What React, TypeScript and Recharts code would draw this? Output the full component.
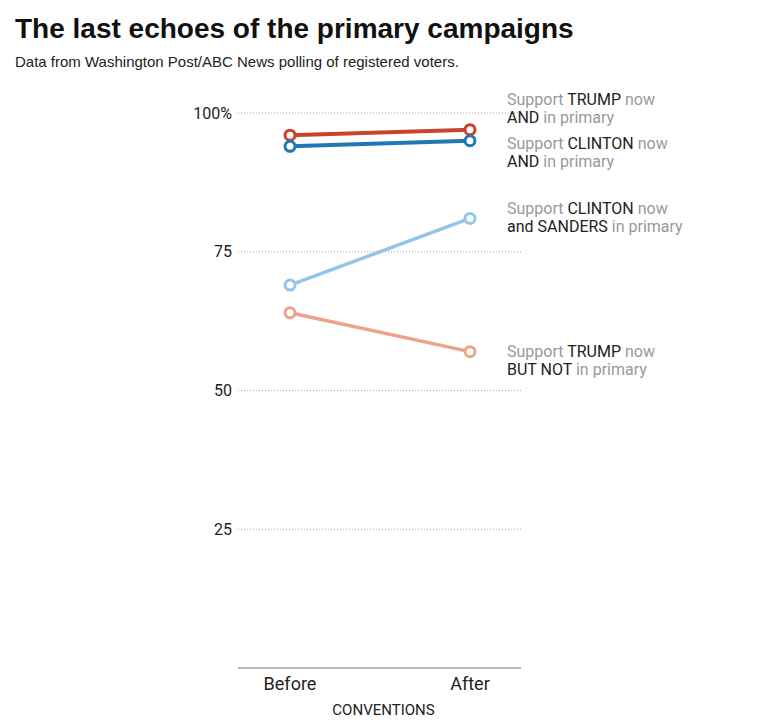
import React from 'react';
import { LineChart, Line, XAxis, YAxis, CartesianGrid, LabelList } from 'recharts';

const periods = ['Before', 'After'];
const trumpAnd = [96, 97];
const clintonAnd = [94, 95];
const clintonSanders = [69, 81];
const trumpNot = [64, 57];
const yTicks = [25, 50, 75, 100];

const data = periods.map((p, i) => ({
  period: p,
  trumpAnd: trumpAnd[i],
  clintonAnd: clintonAnd[i],
  clintonSanders: clintonSanders[i],
  trumpNot: trumpNot[i],
}));

type Seg = [string, boolean];
const seriesLabels: Record<string, Seg[][]> = {
  trumpAnd: [
    [['Support ', false], ['TRUMP', true], [' now', false]],
    [['AND', true], [' in primary', false]],
  ],
  clintonAnd: [
    [['Support ', false], ['CLINTON', true], [' now', false]],
    [['AND', true], [' in primary', false]],
  ],
  clintonSanders: [
    [['Support ', false], ['CLINTON', true], [' now', false]],
    [['and SANDERS', true], [' in primary', false]],
  ],
  trumpNot: [
    [['Support ', false], ['TRUMP', true], [' now', false]],
    [['BUT NOT', true], [' in primary', false]],
  ],
};

const labelOffsets: Record<string, number> = {
  trumpAnd: -30,
  clintonAnd: 2,
  clintonSanders: -10,
  trumpNot: 0,
};

const FONT = 'Roboto, "Liberation Sans", sans-serif';
const HEAD_FONT = '"Liberation Sans", Arial, sans-serif';

const makeLabel = (key: string) => (props: any) => {
  const { x, y, index } = props;
  if (index !== 1) return null;
  const lines = seriesLabels[key];
  const y0 = Number(y) + labelOffsets[key];
  return (
    <text x={Number(x) + 37} y={y0} fontSize={16} fontFamily={FONT}>
      {lines.map((line, li) => (
        <tspan key={li} x={Number(x) + 37} y={y0 + li * 18} dy="0.36em">
          {line.map(([t, dark], si) => (
            <tspan key={si} fill={dark ? '#222' : '#999'} style={{ whiteSpace: 'pre' }}>
              {t}
            </tspan>
          ))}
        </tspan>
      ))}
    </text>
  );
};

const series = [
  { key: 'trumpNot', color: '#eda28a', width: 3.5 },
  { key: 'clintonSanders', color: '#93c5e8', width: 3.5 },
  { key: 'trumpAnd', color: '#c9432b', width: 4 },
  { key: 'clintonAnd', color: '#1f77b4', width: 4 },
];

export default function App() {
  return (
    <div style={{ position: 'absolute', left: 0, top: 0, width: 773, height: 722, background: '#fff', fontFamily: FONT }}>
      <div style={{ position: 'absolute', left: 15, top: 13, fontSize: 28, fontWeight: 700, color: '#111', whiteSpace: 'nowrap', fontFamily: HEAD_FONT }}>
        The last echoes of the primary campaigns
      </div>
      <div style={{ position: 'absolute', left: 15, top: 53, fontSize: 15, color: '#222', whiteSpace: 'nowrap', fontFamily: HEAD_FONT }}>
        Data from Washington Post/ABC News polling of registered voters.
      </div>
      <LineChart width={773} height={722} data={data} margin={{ top: 113, right: 252, bottom: 0, left: 178 }}>
        <CartesianGrid vertical={false} stroke="#aaa" strokeDasharray="1 2" />
        <XAxis
          dataKey="period"
          padding={{ left: 52, right: 51 }}
          axisLine={{ stroke: '#aaa', strokeWidth: 1.5 }}
          tickLine={false}
          tickSize={0}
          tickMargin={9}
          height={54}
          tick={{ fontSize: 18, fill: '#222', fontFamily: FONT }}
          label={{ value: 'CONVENTIONS', position: 'insideBottom', offset: 7, dx: 4, fontSize: 15, fill: '#222', fontFamily: FONT }}
        />
        <YAxis
          domain={[0, 100]}
          ticks={yTicks}
          width={60}
          axisLine={false}
          tickLine={false}
          tickSize={0}
          tickMargin={6}
          tick={{ fontSize: 16, fill: '#222', fontFamily: FONT }}
          tickFormatter={(v: number) => (v === 100 ? '100%' : String(v))}
        />
        {series.map((s) => (
          <Line
            key={s.key}
            dataKey={s.key}
            stroke={s.color}
            strokeWidth={s.width}
            dot={{ r: 5, fill: '#fff', stroke: s.color, strokeWidth: 3 }}
            activeDot={false}
            isAnimationActive={false}
          >
            <LabelList dataKey={s.key} content={makeLabel(s.key)} />
          </Line>
        ))}
      </LineChart>
    </div>
  );
}
